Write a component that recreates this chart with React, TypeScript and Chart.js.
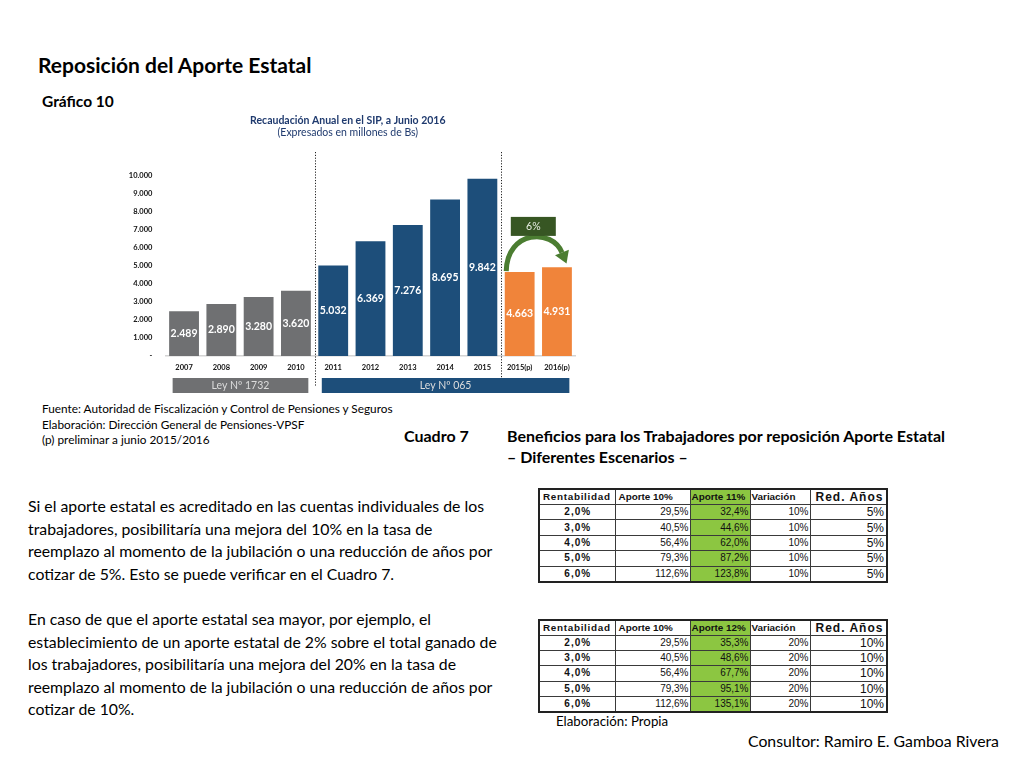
import React, { useEffect, useRef } from "react";
import { Chart, registerables } from "chart.js";

Chart.register(...registerables);

const FONT = "Lato, 'Open Sans', 'Liberation Sans', sans-serif";
const ARIAL = "'Liberation Sans', Arial, sans-serif";

// ---------- chart data ----------
const categories = ["2007", "2008", "2009", "2010", "2011", "2012", "2013", "2014", "2015", "2015(p)", "2016(p)"];
const recaudacion = [2489, 2890, 3280, 3620, 5032, 6369, 7276, 8695, 9842, 4663, 4931];
const valueLabels = ["2.489", "2.890", "3.280", "3.620", "5.032", "6.369", "7.276", "8.695", "9.842", "4.663", "4.931"];
const yTickLabels = ["-", "1.000", "2.000", "3.000", "4.000", "5.000", "6.000", "7.000", "8.000", "9.000", "10.000"];
const leyNames = ["Ley Nº 1732", "Ley Nº 065"];
const leyRanges = [[0, 3], [4, 10]];
const separatorsAfter = [3, 8];
const growthText = "6%";

// ---------- table data ----------
const headers11 = ["Rentabilidad", "Aporte 10%", "Aporte 11%", "Variación", "Red. Años"];
const headers12 = ["Rentabilidad", "Aporte 10%", "Aporte 12%", "Variación", "Red. Años"];
const rentabilidad = ["2,0%", "3,0%", "4,0%", "5,0%", "6,0%"];
const aporte10 = ["29,5%", "40,5%", "56,4%", "79,3%", "112,6%"];
const aporte11 = ["32,4%", "44,6%", "62,0%", "87,2%", "123,8%"];
const aporte12 = ["35,3%", "48,6%", "67,7%", "95,1%", "135,1%"];
const variacion11 = ["10%", "10%", "10%", "10%", "10%"];
const redAnos11 = ["5%", "5%", "5%", "5%", "5%"];
const variacion12 = ["20%", "20%", "20%", "20%", "20%"];
const redAnos12 = ["10%", "10%", "10%", "10%", "10%"];

const GRAY = "#6f7072";
const BLUE = "#1d4e7a";
const ORANGE = "#f0843a";
const NAVY = "#1f3a6e";
const DARKGREEN = "#375623";
const ARROWGREEN = "#4b7d31";
const TABLEGREEN = "#8cc641";

function RecaudacionChart() {
  const ref = useRef<HTMLCanvasElement>(null);
  useEffect(() => {
    const canvas = ref.current;
    if (!canvas) return;

    const decor = {
      id: "decor",
      afterDatasetsDraw(chart: any) {
        const { ctx, chartArea, scales } = chart;
        const x = scales.x;
        const y = scales.y;
        const meta = chart.getDatasetMeta(0);
        ctx.save();

        // value labels centred inside bars
        ctx.font = `bold 10.5px ${FONT}`;
        ctx.fillStyle = "#ffffff";
        ctx.textAlign = "center";
        ctx.textBaseline = "middle";
        meta.data.forEach((bar: any, i: number) => {
          const p = bar.getProps(["x", "y", "base"], true);
          ctx.fillText(valueLabels[i], p.x, (p.y + p.base) / 2);
        });

        // dotted separators
        ctx.strokeStyle = "#222";
        ctx.lineWidth = 1;
        ctx.setLineDash([1.2, 1.6]);
        separatorsAfter.forEach((i) => {
          const sx = Math.round((x.getPixelForValue(i) + x.getPixelForValue(i + 1)) / 2) + 0.5;
          ctx.beginPath();
          ctx.moveTo(sx, chartArea.top - 24);
          ctx.lineTo(sx, chartArea.bottom + 31);
          ctx.stroke();
        });
        ctx.setLineDash([]);

        // law bands
        const bandTop = chartArea.bottom + 22;
        const bandH = 15;
        leyRanges.forEach(([a, b], k) => {
          const bw = meta.data[a].width;
          const left = x.getPixelForValue(a) - bw / 2 + 3.5;
          const right = x.getPixelForValue(b) + bw / 2 - 2.5;
          ctx.fillStyle = k === 0 ? GRAY : BLUE;
          ctx.fillRect(left, bandTop, right - left, bandH);
          ctx.fillStyle = "#dcdcdc";
          ctx.font = `10.5px ${FONT}`;
          ctx.fillText(leyNames[k], (left + right) / 2, bandTop + bandH / 2 + 0.5);
        });

        // growth arrow between the two preliminary bars
        const i9 = 9;
        const i10 = 10;
        const bw = meta.data[i9].width;
        const x9 = x.getPixelForValue(i9);
        const x10 = x.getPixelForValue(i10);
        const sx = x9 - bw / 2 + 1.5;
        const sy = y.getPixelForValue(recaudacion[i9]) - 1;
        const ex = x10 + 5;
        const ey = y.getPixelForValue(5750);
        const c1x = sx + 1;
        const c1y = y.getPixelForValue(7000);
        const c2x = ex - 10;
        const c2y = y.getPixelForValue(7100);
        ctx.strokeStyle = ARROWGREEN;
        ctx.fillStyle = ARROWGREEN;
        ctx.lineWidth = 5;
        ctx.lineCap = "butt";
        ctx.beginPath();
        ctx.moveTo(sx, sy);
        ctx.bezierCurveTo(c1x, c1y, c2x, c2y, ex, ey);
        ctx.stroke();
        let dx = ex - c2x;
        let dy = ey - c2y;
        const len = Math.hypot(dx, dy);
        dx /= len;
        dy /= len;
        const px = -dy;
        const py = dx;
        ctx.beginPath();
        ctx.moveTo(ex + dx * 12, ey + dy * 12);
        ctx.lineTo(ex + px * 7.5, ey + py * 7.5);
        ctx.lineTo(ex - px * 7.5, ey - py * 7.5);
        ctx.closePath();
        ctx.fill();

        // growth box
        const boxCx = (x9 + x10) / 2 - 5;
        const boxCy = y.getPixelForValue(7200);
        const boxW = 45;
        const boxH = 19;
        ctx.fillStyle = DARKGREEN;
        ctx.fillRect(boxCx - boxW / 2, boxCy - boxH / 2, boxW, boxH);
        ctx.fillStyle = "#e8efe3";
        ctx.font = `10.5px ${FONT}`;
        ctx.fillText(growthText, boxCx, boxCy + 0.5);

        ctx.restore();
      },
    };

    const chart = new Chart(canvas, {
      type: "bar",
      data: {
        labels: categories,
        datasets: [
          {
            data: recaudacion,
            backgroundColor: (c: any) => (c.dataIndex < 4 ? GRAY : c.dataIndex < 9 ? BLUE : ORANGE),
            categoryPercentage: 1,
            barPercentage: 0.8,
            borderWidth: 0,
          },
        ],
      },
      options: {
        animation: false,
        responsive: true,
        maintainAspectRatio: false,
        layout: { padding: { left: 0, right: 14.4, top: 0, bottom: 0 } },
        plugins: {
          legend: { display: false },
          tooltip: { enabled: false },
          title: {
            display: true,
            text: "Recaudación Anual en el SIP, a Junio 2016",
            color: NAVY,
            font: { family: FONT, size: 10.5, weight: "bold", lineHeight: 1.2 },
            padding: { top: 14, bottom: 0 },
          },
          subtitle: {
            display: true,
            text: "(Expresados en millones de Bs)",
            color: NAVY,
            font: { family: FONT, size: 10.5, weight: "normal", lineHeight: 1.2 },
            padding: { top: 0, bottom: 36.8 },
          },
        },
        scales: {
          x: {
            grid: { display: false, drawTicks: false },
            border: { display: true, color: "#d4d4d4", width: 1.5 },
            ticks: {
              color: "#111",
              font: { family: FONT, size: 7.5, weight: "bold" },
              padding: 7,
              maxRotation: 0,
              autoSkip: false,
            },
            afterFit: (s: any) => {
              s.height = 44;
            },
          },
          y: {
            min: 0,
            max: 10000,
            grid: { display: false, drawTicks: false },
            border: { display: false },
            ticks: {
              stepSize: 1000,
              color: "#111",
              font: { family: FONT, size: 7.5, weight: "bold" },
              padding: 13,
              callback: (_v: any, i: number) => yTickLabels[i],
            },
            afterFit: (s: any) => {
              s.width = 45.4;
            },
          },
        },
      },
      plugins: [decor],
    });
    return () => chart.destroy();
  }, []);

  return (
    <div style={{ position: "absolute", left: 120, top: 100, width: 470, height: 300 }}>
      <canvas ref={ref} />
    </div>
  );
}

function BenefitTable({
  top,
  headers,
  mid,
  variacion,
  redAnos,
}: {
  top: number;
  headers: string[];
  mid: string[];
  variacion: string[];
  redAnos: string[];
}) {
  const colW = [76, 75, 60, 60, 77];
  const base: React.CSSProperties = {
    fontFamily: ARIAL,
    fontSize: 10,
    lineHeight: "10px",
    padding: "0 2px",
    border: "1px solid #3a3a3a",
    whiteSpace: "nowrap",
    color: "#111",
    overflow: "visible",
  };
  const headStyle = (i: number): React.CSSProperties => ({
    ...base,
    height: 14,
    fontWeight: "bold",
    textAlign: "left",
    letterSpacing: i === 0 ? 0.7 : i === 4 ? 1 : 0,
    fontSize: i === 4 ? 12 : 9.9,
    paddingLeft: i === 4 ? 5 : i === 2 || i === 3 ? 1 : 3,
    paddingRight: 0,
    background: i === 2 ? TABLEGREEN : "#fff",
  });
  const cell = (i: number): React.CSSProperties => ({
    ...base,
    height: 14.4,
    textAlign: i === 0 ? "center" : "right",
    fontWeight: i === 0 ? "bold" : "normal",
    letterSpacing: i === 0 ? 1 : 0,
    fontSize: i === 4 ? 12 : 10,
    paddingRight: i === 4 ? 2 : 1,
    background: i === 2 ? TABLEGREEN : "#fff",
  });
  return (
    <table
      style={{
        position: "absolute",
        left: 538,
        top,
        width: 348,
        borderCollapse: "collapse",
        tableLayout: "fixed",
        border: "2px solid #222",
      }}
    >
      <colgroup>
        {colW.map((w, i) => (
          <col key={i} style={{ width: w }} />
        ))}
      </colgroup>
      <tbody>
        <tr>
          {headers.map((h, i) => (
            <td key={i} style={headStyle(i)}>
              {h}
            </td>
          ))}
        </tr>
        {rentabilidad.map((r, k) => (
          <tr key={k}>
            <td style={cell(0)}>{r}</td>
            <td style={cell(1)}>{aporte10[k]}</td>
            <td style={cell(2)}>{mid[k]}</td>
            <td style={cell(3)}>{variacion[k]}</td>
            <td style={cell(4)}>{redAnos[k]}</td>
          </tr>
        ))}
      </tbody>
    </table>
  );
}

const T = (props: {
  left: number;
  top: number;
  size: number;
  lh: number;
  bold?: boolean;
  children: React.ReactNode;
}) => (
  <div
    style={{
      position: "absolute",
      left: props.left,
      top: props.top,
      fontSize: props.size,
      lineHeight: `${props.lh}px`,
      fontWeight: props.bold ? "bold" : "normal",
      whiteSpace: "nowrap",
      color: "#000",
    }}
  >
    {props.children}
  </div>
);

export default function App() {
  return (
    <div
      style={{
        position: "absolute",
        left: 0,
        top: 0,
        width: 1024,
        height: 768,
        background: "#fff",
        fontFamily: FONT,
        overflow: "hidden",
      }}
    >
      <T left={38} top={52} size={21} lh={26} bold>
        Reposición del Aporte Estatal
      </T>
      <T left={42} top={92} size={15.5} lh={19} bold>
        Gráfico 10
      </T>

      <RecaudacionChart />

      <T left={42} top={401} size={11.8} lh={15.5}>
        Fuente: Autoridad de Fiscalización y Control de Pensiones y Seguros
        <br />
        Elaboración: Dirección General de Pensiones-VPSF
        <br />
        (p) preliminar a junio 2015/2016
      </T>

      <T left={404} top={425} size={16} lh={21} bold>
        Cuadro 7
      </T>
      <T left={507} top={425} size={16} lh={21} bold>
        Beneficios para los Trabajadores por reposición Aporte Estatal
        <br />– Diferentes Escenarios –
      </T>

      <T left={28} top={495} size={15.8} lh={22.7}>
        Si el aporte estatal es acreditado en las cuentas individuales de los
        <br />
        trabajadores, posibilitaría una mejora del 10% en la tasa de
        <br />
        reemplazo al momento de la jubilación o una reducción de años por
        <br />
        cotizar de 5%. Esto se puede verificar en el Cuadro 7.
      </T>

      <T left={28} top={608} size={15.8} lh={22.6}>
        En caso de que el aporte estatal sea mayor, por ejemplo, el
        <br />
        establecimiento de un aporte estatal de 2% sobre el total ganado de
        <br />
        los trabajadores, posibilitaría una mejora del 20% en la tasa de
        <br />
        reemplazo al momento de la jubilación o una reducción de años por
        <br />
        cotizar de 10%.
      </T>

      <BenefitTable top={488} headers={headers11} mid={aporte11} variacion={variacion11} redAnos={redAnos11} />
      <BenefitTable top={618.5} headers={headers12} mid={aporte12} variacion={variacion12} redAnos={redAnos12} />

      <T left={556} top={713} size={13.3} lh={16}>
        Elaboración: Propia
      </T>
      <T left={748} top={731} size={15.8} lh={20}>
        Consultor: Ramiro E. Gamboa Rivera
      </T>
    </div>
  );
}
